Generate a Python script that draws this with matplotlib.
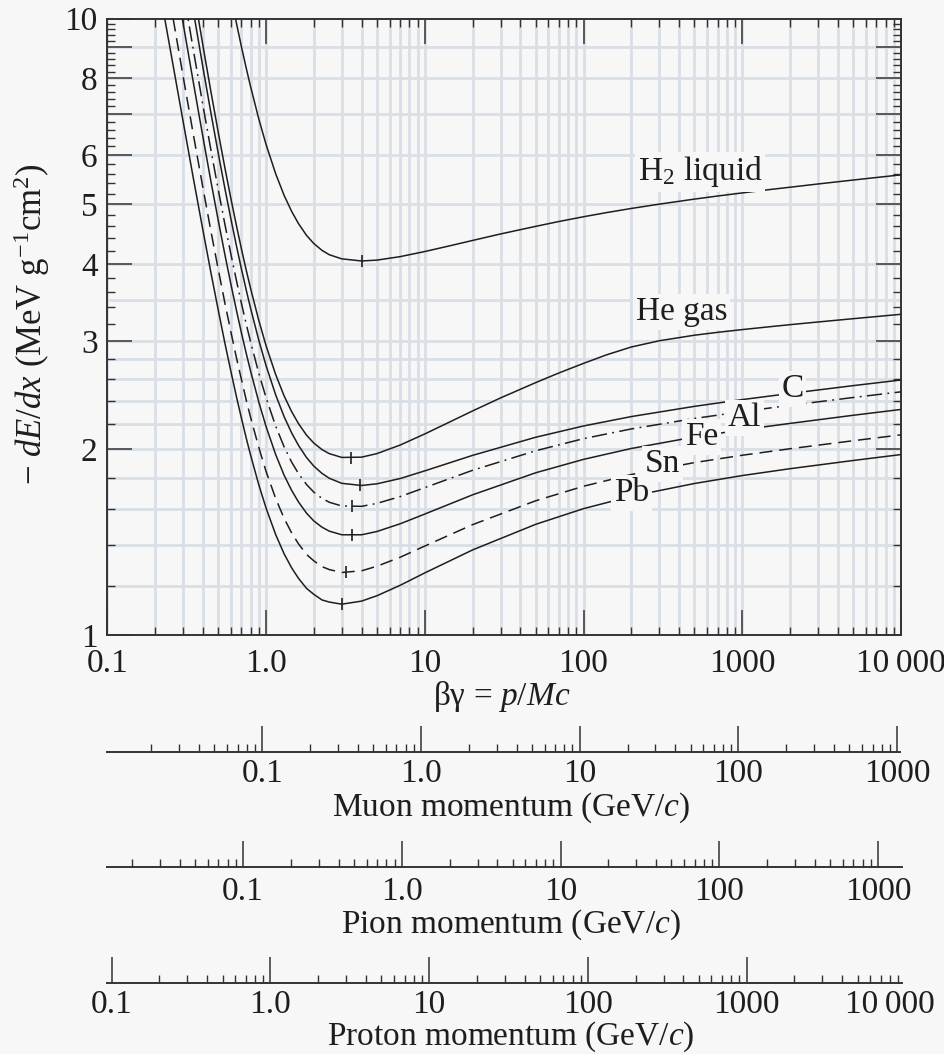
import matplotlib
matplotlib.use("Agg")
import matplotlib.pyplot as plt
from matplotlib.ticker import FixedLocator, FixedFormatter, NullFormatter

plt.rcParams['font.family'] = ['Liberation Serif', 'DejaVu Serif']
plt.rcParams['mathtext.fontset'] = 'custom'
plt.rcParams['mathtext.rm'] = 'Liberation Serif'
plt.rcParams['mathtext.it'] = 'Liberation Serif:italic'
plt.rcParams['mathtext.bf'] = 'Liberation Serif:bold'

# ---------------- data ----------------
# beta*gamma sample points for C, Al, Fe, Sn, Pb
bg = [0.2, 0.25, 0.3, 0.35, 0.4, 0.45, 0.5, 0.55, 0.6, 0.65, 0.7, 0.75, 0.8, 0.9, 1.0,
      1.15, 1.3, 1.45, 1.6, 1.8, 2, 2.25, 2.5, 3, 4, 5, 7, 10, 20, 50, 100, 200, 500,
      1000, 2000, 5000, 10000]
bg_he = [0.2, 0.25, 0.3, 0.35, 0.4, 0.45, 0.5, 0.55, 0.6, 0.65, 0.7, 0.75, 0.8, 0.9, 1.0,
         1.15, 1.3, 1.45, 1.6, 1.8, 2, 2.25, 2.5, 3, 4, 5, 7, 10, 14, 20, 30, 50, 70, 100,
         140, 200, 300, 500, 700, 1000, 1500, 2000, 3000, 5000, 7000, 10000]
bg_h2 = [0.55, 0.6, 0.65, 0.7, 0.75, 0.8, 0.9, 1.0, 1.15, 1.3, 1.45, 1.6, 1.8, 2, 2.25,
         2.5, 3, 4, 5, 7, 10, 14, 20, 30, 50, 70, 100, 140, 200, 300, 500, 700, 1000,
         1500, 2000, 3000, 5000, 7000, 10000]

h2 = [12.24, 10.90, 9.844, 8.997, 8.310, 7.744, 6.874, 6.249, 5.599, 5.165, 4.865, 4.650,
      4.448, 4.315, 4.207, 4.139, 4.075, 4.043, 4.056, 4.109, 4.188, 4.272, 4.365, 4.472,
      4.601, 4.685, 4.769, 4.844, 4.919, 4.999, 5.094, 5.153, 5.213, 5.280, 5.325, 5.390,
      5.470, 5.522, 5.577]
he = [27.3, 18.98, 14.14, 11.10, 9.05, 7.598, 6.535, 5.732, 5.111, 4.621, 4.228, 3.908,
      3.645, 3.239, 2.947, 2.645, 2.442, 2.303, 2.203, 2.109, 2.048, 1.999, 1.969, 1.941,
      1.943, 1.969, 2.033, 2.119, 2.209, 2.309, 2.424, 2.567, 2.661, 2.758, 2.848, 2.932,
      3.001, 3.064, 3.097, 3.129, 3.163, 3.187, 3.219, 3.259, 3.285, 3.313]
c = [24.8, 17.34, 12.97, 10.21, 8.34, 7.018, 6.044, 5.307, 4.737, 4.286, 3.923, 3.628,
     3.384, 3.008, 2.736, 2.452, 2.260, 2.127, 2.031, 1.940, 1.879, 1.829, 1.796, 1.762,
     1.748, 1.759, 1.794, 1.846, 1.956, 2.093, 2.183, 2.261, 2.349, 2.409, 2.465, 2.538,
     2.592]
al = [21.0, 14.83, 11.16, 8.83, 7.24, 6.110, 5.276, 4.643, 4.152, 3.764, 3.450, 3.195,
      2.985, 2.660, 2.426, 2.182, 2.019, 1.907, 1.828, 1.754, 1.705, 1.666, 1.642, 1.619,
      1.617, 1.635, 1.677, 1.734, 1.850, 1.990, 2.082, 2.159, 2.245, 2.303, 2.358, 2.428,
      2.480]
fe = [18.30, 13.0, 9.84, 7.82, 6.43, 5.436, 4.703, 4.146, 3.712, 3.368, 3.090, 2.864,
      2.677, 2.388, 2.179, 1.962, 1.816, 1.716, 1.644, 1.576, 1.531, 1.496, 1.474, 1.454,
      1.454, 1.472, 1.515, 1.571, 1.688, 1.833, 1.927, 2.007, 2.095, 2.152, 2.204, 2.272,
      2.322]
sn = [14.76, 10.59, 8.07, 6.44, 5.32, 4.513, 3.918, 3.459, 3.106, 2.821, 2.596, 2.406,
      2.252, 2.015, 1.843, 1.665, 1.546, 1.464, 1.406, 1.351, 1.319, 1.291, 1.277, 1.263,
      1.271, 1.293, 1.337, 1.394, 1.510, 1.651, 1.743, 1.821, 1.904, 1.957, 2.005, 2.066,
      2.112]
pb = [12.22, 8.87, 6.82, 5.47, 4.54, 3.865, 3.365, 2.978, 2.680, 2.439, 2.247, 2.087,
      1.956, 1.753, 1.607, 1.455, 1.354, 1.285, 1.236, 1.190, 1.164, 1.140, 1.131, 1.122,
      1.135, 1.158, 1.204, 1.261, 1.374, 1.512, 1.603, 1.679, 1.761, 1.814, 1.861, 1.919,
      1.962]

# minimum markers (beta*gamma, dE/dx)
min_bg = [4.0, 3.43, 3.91, 3.48, 3.48, 3.18, 3.03]
min_val = [4.043, 1.939, 1.748, 1.617, 1.452, 1.265, 1.122]

# curve labels: (text, beta*gamma, dE/dx)
lab_text = ['H$_2$ liquid', 'He gas', 'C', 'Al', 'Fe', 'Sn', 'Pb']
lab_bg = [543, 414, 2070, 1030, 552, 314, 200]
lab_val = [5.64, 3.34, 2.506, 2.249, 2.095, 1.893, 1.70]

x_major = [0.1, 1, 10, 100, 1000, 10000]
x_major_lab = ['0.1', '1.0', '10', '100', '1000', '10\u2009000']
y_major = [1, 2, 3, 4, 5, 6, 7, 8, 9, 10]
y_major_lab = ['1', '2', '3', '4', '5', '6', '', '8', '', '10']
y_grid = [1.2, 1.4, 1.6, 1.8, 2, 2.2, 2.4, 2.6, 2.8, 3, 3.5, 4, 5, 6, 7, 8, 9]

mass_mu, mass_pi, mass_p = 0.105658, 0.139570, 0.938272
mom_major = [0.1, 1, 10, 100, 1000]
mom_major_lab = ['0.1', '1.0', '10', '100', '1000']

# ---------------- figure ----------------
W, H = 945, 1054
BG = '#f7f7f7'
INK = '#1e1e1e'
GRID = '#d8dfe6'
FS = 24

fig = plt.figure(figsize=(W / 100, H / 100), dpi=100)
fig.patch.set_facecolor(BG)


def fx(px):
    return px / W


def fy(py):
    return 1 - py / H


L, R, T, B = 107.3, 901.0, 18.5, 635.0
ax = fig.add_axes([fx(L), fy(B), fx(R) - fx(L), fy(T) - fy(B)])
ax.set_facecolor(BG)
ax.set_xscale('log')
ax.set_yscale('log')
ax.set_xlim(0.1, 10000)
ax.set_ylim(1, 10)

x_minor = [k * 10.0 ** d for d in range(-1, 4) for k in range(2, 10)]
y_minor = [round(1 + 0.2 * i, 1) for i in range(1, 45)
           if abs((1 + 0.2 * i) - round(1 + 0.2 * i)) > 1e-6]

ax.xaxis.set_major_locator(FixedLocator(x_major))
ax.xaxis.set_major_formatter(FixedFormatter(x_major_lab))
ax.xaxis.set_minor_locator(FixedLocator(x_minor))
ax.xaxis.set_minor_formatter(NullFormatter())
ax.yaxis.set_major_locator(FixedLocator(y_major))
ax.yaxis.set_major_formatter(FixedFormatter(y_major_lab))
ax.yaxis.set_minor_locator(FixedLocator(y_minor))
ax.yaxis.set_minor_formatter(NullFormatter())

ax.tick_params(which='both', direction='in', top=True, right=True, color='#333333',
               labelsize=FS, labelcolor=INK)
ax.tick_params(which='major', length=18, width=1.1)
ax.tick_params(which='minor', length=6, width=1.0)
ax.tick_params(axis='x', which='major', pad=10)
ax.tick_params(axis='y', which='major', pad=7)
for s in ax.spines.values():
    s.set_color('#333333')
    s.set_linewidth(1.4)

for xv in x_minor + x_major:
    ax.axvline(xv, color=GRID, lw=2.0, zorder=0)
for yv in y_grid:
    ax.axhline(yv, color=GRID, lw=2.0, zorder=0)

lw = 1.1
ax.plot(bg_h2, h2, color=INK, lw=lw, zorder=3)
ax.plot(bg_he, he, color=INK, lw=lw, zorder=3)
ax.plot(bg, c, color=INK, lw=lw, zorder=3)
ax.plot(bg, al, color=INK, lw=lw, zorder=3, dashes=(10, 3.5, 1.2, 3.5))
ax.plot(bg, fe, color=INK, lw=lw, zorder=3)
ax.plot(bg, sn, color=INK, lw=lw, zorder=3, dashes=(8.5, 4.5))
ax.plot(bg, pb, color=INK, lw=lw, zorder=3)

ax.plot(min_bg, min_val, linestyle='none', marker='|', markersize=9, mew=1.2,
        color=INK, zorder=4)

for t, xv, yv in zip(lab_text, lab_bg, lab_val):
    ax.text(xv, yv, t, fontsize=FS, color=INK, ha='center', va='center', zorder=5,
            bbox=dict(boxstyle='square,pad=0.08', fc=BG, ec='none'))

fig.text(fx(502), fy(697), '\u03b2\u03b3 = $p/Mc$', fontsize=FS, color=INK,
         ha='center', va='center')
fig.text(fx(32), fy(324), '\u2212 $dE/dx$ (MeV g$^{-1}$cm$^{2}$)', fontsize=25,
         color=INK, ha='center', va='center', rotation=90)


# ---------------- momentum scales ----------------
def mom_axis(py_line, x0px, x1px, mass, title, title_y, pad=7):
    a = fig.add_axes([fx(x0px), fy(py_line), fx(x1px) - fx(x0px), 0.04])
    a.set_facecolor('none')
    a.set_xscale('log')
    lo = 0.1 * mass * 10 ** ((x0px - L) / ((R - L) / 5))
    hi = 0.1 * mass * 10 ** ((x1px - L) / ((R - L) / 5))
    a.set_xlim(lo, hi)
    a.set_ylim(0, 1)
    for s in ['top', 'left', 'right']:
        a.spines[s].set_visible(False)
    a.spines['bottom'].set_color('#333333')
    a.spines['bottom'].set_linewidth(1.4)
    a.yaxis.set_visible(False)
    minors = [k * 10.0 ** d for d in range(-3, 5) for k in range(2, 10)]
    a.xaxis.set_major_locator(FixedLocator(mom_major))
    a.xaxis.set_major_formatter(FixedFormatter(mom_major_lab))
    a.xaxis.set_minor_locator(FixedLocator(minors))
    a.xaxis.set_minor_formatter(NullFormatter())
    a.tick_params(which='both', direction='in', color='#333333', labelsize=FS,
                  labelcolor=INK)
    a.tick_params(which='major', length=19, width=1.1, pad=pad)
    a.tick_params(which='minor', length=5.5, width=1.0)
    fig.text(fx(511), fy(title_y), title, fontsize=FS, color=INK, ha='center', va='center')
    return a


mom_axis(752, 107.3, 900, mass_mu, 'Muon momentum (GeV/$c$)', 808, pad=5)
mom_axis(867, 107.3, 902, mass_pi, 'Pion momentum (GeV/$c$)', 925)
pa = mom_axis(983, 107.3, 902, mass_p, 'Proton momentum (GeV/$c$)', 1037, pad=5)
pa.annotate('10\u2009000', xy=(0.985, 0), xycoords='axes fraction', xytext=(0, -5),
            textcoords='offset points', ha='center', va='top', fontsize=FS, color=INK,
            annotation_clip=False)

fig.savefig('out.png', dpi=100, facecolor=BG)
